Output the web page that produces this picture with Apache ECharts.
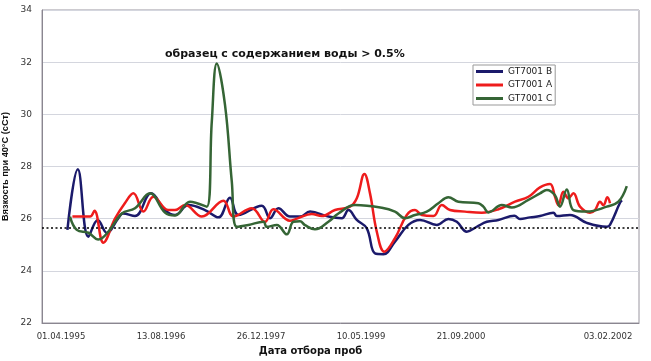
<!DOCTYPE html>
<html>
<head>
<meta charset="utf-8">
<script src="https://cdn.jsdelivr.net/npm/echarts@6/dist/echarts.min.js"></script>
<style>
html,body{margin:0;padding:0;background:#fff;}
#c{width:651px;height:361px;}
</style>
</head>
<body>
<div id="c"></div>
<script>
// x values: days since 01.04.1995 (approximate)
const xTickValues = [0, 500, 1000, 1500, 2000, 2735];
const xTickLabels = ['01.04.1995', '13.08.1996', '26.12.1997', '10.05.1999', '21.09.2000', '03.02.2002'];
const yTicks = [22, 24, 26, 28, 30, 32, 34];
const seriesNames = ['GT7001 B', 'GT7001 A', 'GT7001 C'];
const refLevel = 25.65;
const annotation = 'образец с содержанием воды > 0.5%';

const daysB = [32, 84, 137, 184, 230, 285, 310, 370, 450, 520, 570, 637, 720, 787, 845, 887, 1004, 1045, 1087, 1145, 1195, 1245, 1337, 1404, 1437, 1479, 1529, 1570, 1612, 1670, 1737, 1795, 1879, 1937, 1979, 2029, 2079, 2129, 2187, 2267, 2295, 2345, 2395, 2462, 2479, 2545, 2629, 2729, 2745, 2795, 2805];
const valsB = [25.57, 27.89, 25.31, 25.95, 25.45, 26.0, 26.2, 26.1, 26.97, 26.33, 26.14, 26.52, 26.33, 26.05, 26.8, 26.14, 26.5, 26.02, 26.4, 26.08, 26.08, 26.27, 26.08, 26.02, 26.33, 25.95, 25.63, 24.67, 24.64, 25.12, 25.76, 25.95, 25.76, 25.99, 25.88, 25.5, 25.69, 25.88, 25.95, 26.11, 25.99, 26.05, 26.1, 26.23, 26.1, 26.14, 25.84, 25.69, 25.76, 26.61, 26.7];

const daysA = [57, 145, 167, 212, 270, 320, 362, 412, 462, 537, 570, 620, 704, 812, 862, 954, 1020, 1062, 1145, 1180, 1254, 1304, 1370, 1445, 1479, 1517, 1545, 1579, 1617, 1670, 1729, 1770, 1804, 1862, 1904, 1945, 2020, 2104, 2187, 2270, 2337, 2395, 2445, 2470, 2487, 2512, 2537, 2562, 2595, 2645, 2670, 2695, 2712, 2732, 2745];
const valsA = [26.08, 26.08, 26.3, 25.08, 26.0, 26.6, 26.97, 26.27, 26.84, 26.33, 26.33, 26.52, 26.08, 26.69, 26.08, 26.4, 25.88, 26.36, 25.92, 26.0, 26.18, 26.1, 26.33, 26.46, 26.78, 27.71, 26.97, 25.5, 24.73, 25.25, 26.14, 26.33, 26.14, 26.1, 26.52, 26.33, 26.27, 26.23, 26.36, 26.65, 26.84, 27.2, 27.33, 26.84, 26.52, 27.03, 26.78, 26.97, 26.46, 26.23, 26.33, 26.65, 26.52, 26.82, 26.59];

const daysC = [45, 79, 137, 187, 237, 304, 370, 445, 520, 570, 645, 729, 754, 779, 820, 854, 879, 937, 1012, 1029, 1079, 1129, 1162, 1195, 1220, 1270, 1337, 1387, 1470, 1604, 1670, 1720, 1770, 1829, 1887, 1937, 1987, 2087, 2112, 2137, 2204, 2254, 2337, 2395, 2429, 2470, 2495, 2529, 2562, 2629, 2729, 2787, 2829];
const valsC = [26.08, 25.57, 25.46, 25.2, 25.5, 26.2, 26.4, 26.97, 26.23, 26.12, 26.65, 26.46, 29.72, 31.95, 30.36, 27.42, 25.69, 25.76, 25.88, 25.69, 25.76, 25.4, 25.88, 25.9, 25.75, 25.59, 25.88, 26.2, 26.52, 26.42, 26.27, 26.02, 26.14, 26.27, 26.59, 26.82, 26.65, 26.59, 26.46, 26.24, 26.52, 26.43, 26.72, 26.97, 27.1, 26.9, 26.46, 27.12, 26.33, 26.27, 26.46, 26.65, 27.25];

const colors = ['#1b1a6b', '#ee1c1c', '#356535'];

function zip(xs, ys) { return xs.map((x, i) => [x, ys[i]]); }
const allData = [zip(daysB, valsB), zip(daysA, valsA), zip(daysC, valsC)];

const chart = echarts.init(document.getElementById('c'), null, {renderer: 'canvas'});
const series = seriesNames.map((n, i) => ({
  name: n,
  type: 'line',
  data: allData[i],
  smooth: 0.4,
  showSymbol: false,
  symbol: 'none',
  lineStyle: {color: colors[i], width: 2.5},
  itemStyle: {color: colors[i]},
  z: 3 + i
}));
series[0].markLine = {
  silent: true,
  symbol: ['none', 'none'],
  label: {show: false},
  lineStyle: {color: '#000', type: [2, 2.5], width: 1.6},
  data: [{yAxis: refLevel}]
};

chart.setOption({
  animation: false,
  backgroundColor: '#fff',
  grid: {left: 42, right: 12, top: 10, bottom: 38, show: true, borderColor: '#9a96a0', borderWidth: 1, containLabel: false, outerBoundsMode: 'none'},
  xAxis: {
    type: 'value',
    min: -95,
    max: 2890,
    axisLine: {show: true, onZero: false, lineStyle: {color: '#8a8690', width: 1}},
    axisTick: {show: false},
    splitLine: {show: false},
    axisLabel: {
      customValues: xTickValues,
      formatter: v => { const k = xTickValues.indexOf(v); return k >= 0 ? xTickLabels[k] : ''; },
      fontFamily: 'DejaVu Sans', fontSize: 8.5, color: '#333', margin: 9
    },
    name: 'Дата отбора проб',
    nameLocation: 'middle',
    nameGap: 23,
    nameTextStyle: {fontFamily: 'DejaVu Sans', fontWeight: 'bold', fontSize: 10, color: '#111', padding: [0, 60, 0, 0]}
  },
  yAxis: {
    type: 'value',
    min: yTicks[0],
    max: yTicks[yTicks.length - 1],
    interval: 2,
    axisLine: {show: true, onZero: false, lineStyle: {color: '#8a8690', width: 1}},
    axisTick: {show: false},
    splitLine: {show: true, lineStyle: {color: '#d4d6de', width: 1}},
    axisLabel: {fontFamily: 'DejaVu Sans', fontSize: 9, color: '#333', margin: 10},
    name: 'Вязкость при 40°C (cCт)',
    nameLocation: 'middle',
    nameGap: 32,
    nameTextStyle: {fontFamily: 'Liberation Sans', fontWeight: 'bold', fontSize: 9.2, color: '#111'}
  },
  legend: {
    data: seriesNames,
    orient: 'vertical',
    left: 473,
    top: 65,
    icon: 'rect',
    itemWidth: 27,
    itemHeight: 3,
    itemGap: 2.5,
    padding: [1, 3, 1, 3],
    borderColor: '#999',
    borderWidth: 1,
    backgroundColor: '#fff',
    textStyle: {fontFamily: 'DejaVu Sans', fontSize: 9, color: '#222', lineHeight: 11}
  },
  graphic: [{
    type: 'text',
    left: 165,
    top: 49,
    style: {text: annotation, font: 'bold 11px "DejaVu Sans"', fill: '#111'}
  }],
  series: series
});
</script>
</body>
</html>
